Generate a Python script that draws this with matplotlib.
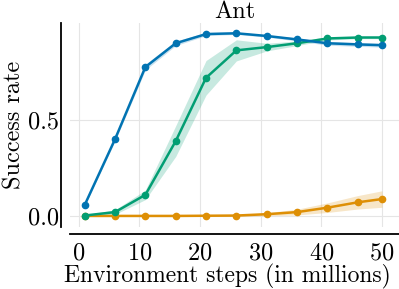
import numpy as np
import matplotlib
matplotlib.use("Agg")
import matplotlib.pyplot as plt

plt.rcParams['font.family'] = 'cmr10'
plt.rcParams['mathtext.fontset'] = 'cm'
plt.rcParams['axes.formatter.use_mathtext'] = True

# datos
steps = [1, 6, 11, 16, 21, 26, 31, 36, 41, 46, 50]
blue_mean = [0.057, 0.40, 0.776, 0.90, 0.948, 0.952, 0.938, 0.92, 0.90, 0.894, 0.89]
blue_err = [0.005, 0.01, 0.015, 0.012, 0.008, 0.006, 0.006, 0.008, 0.01, 0.01, 0.01]
green_mean = [0.002, 0.02, 0.11, 0.39, 0.72, 0.863, 0.88, 0.90, 0.925, 0.93, 0.93]
green_err = [0.004, 0.012, 0.025, 0.08, 0.09, 0.055, 0.02, 0.012, 0.008, 0.006, 0.006]
orange_mean = [0.0, 0.0, 0.0, 0.0, 0.001, 0.002, 0.009, 0.02, 0.043, 0.071, 0.088]
orange_err = [0.001, 0.001, 0.001, 0.001, 0.002, 0.004, 0.008, 0.015, 0.025, 0.035, 0.043]

colores = ['#0173b2', '#029e73', '#de8f05']

fig = plt.figure(figsize=(3.99, 2.89), dpi=100)
ax = fig.add_axes([0.175, 0.215, 0.825, 0.705])

for m, e, c in [(orange_mean, orange_err, colores[2]),
                (green_mean, green_err, colores[1]),
                (blue_mean, blue_err, colores[0])]:
    m = np.array(m)
    e = np.array(e)
    ax.fill_between(steps, m - e, m + e, color=c, alpha=0.22, lw=0)
    ax.plot(steps, m, color=c, lw=1.8, marker='o', markersize=4.5)

ax.set_xticks([0, 10, 20, 30, 40, 50])
ax.set_yticks([0.0, 0.5])
ax.set_yticklabels(['0.0', '0.5'])
ax.set_xlim(-1.45, 52.8)
ax.set_ylim(-0.057, 1.005)
ax.grid(True, color='#e5e5e5', lw=0.8)
ax.set_axisbelow(True)
ax.tick_params(axis='x', length=0, labelsize=17.5, pad=6)
ax.tick_params(axis='y', length=0, labelsize=17.5, pad=1.5)

for s in ['top', 'right']:
    ax.spines[s].set_visible(False)
ax.spines['left'].set_position(('outward', 6))
ax.spines['bottom'].set_position(('outward', 5))
ax.spines['left'].set_linewidth(1.3)
ax.spines['bottom'].set_linewidth(1.3)

ax.set_title('Ant', fontsize=17.5, pad=2)
ax.set_ylabel('Success rate', fontsize=17.5, labelpad=2)
ax.set_xlabel('Environment steps (in millions)', fontsize=17, labelpad=-0.5, x=0.478)

fig.savefig('out.png', dpi=100)
